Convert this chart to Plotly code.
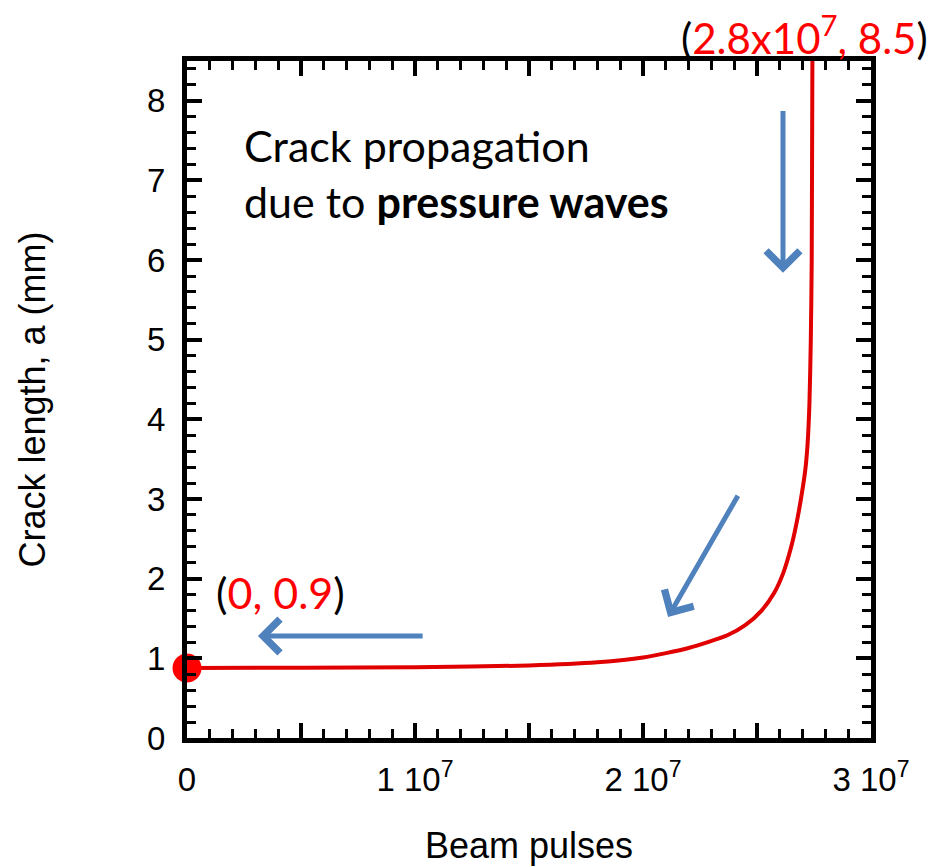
import plotly.graph_objects as go

# Crack growth curve (beam pulses, crack length in mm)
pulses = [0, 0.5e7, 1.0e7, 1.5e7, 1.8e7, 2.0e7, 2.2e7, 2.37e7, 2.45e7, 2.52e7,
          2.575e7, 2.615e7, 2.65e7, 2.675e7, 2.695e7, 2.712e7, 2.722e7, 2.730e7,
          2.736e7, 2.740e7, 2.743e7]
crack_mm = [0.88, 0.882, 0.888, 0.91, 0.95, 1.01, 1.13, 1.29, 1.42, 1.60,
            1.82, 2.07, 2.40, 2.72, 3.04, 3.37, 3.70, 4.20,
            5.0, 6.0, 8.5]

start_point = [0]
start_value = [0.88]

x_tickvals = [0, 0.5e7, 1e7, 1.5e7, 2e7, 2.5e7, 3e7]
x_ticktext = ["0", "", "1 10<sup>7</sup>", "", "2 10<sup>7</sup>", "", "3 10<sup>7</sup>"]
y_tickvals = [0, 1, 2, 3, 4, 5, 6, 7, 8]

RED = "#e00000"
BLUE = "#4f81bd"
AXFONT = "Liberation Sans, Arial, sans-serif"
TXTFONT = "Lato, Open Sans, sans-serif"

fig = go.Figure()
fig.add_trace(go.Scatter(x=pulses, y=crack_mm, mode="lines",
                         line=dict(color=RED, width=4, shape="spline", smoothing=0.6),
                         showlegend=False, hoverinfo="skip"))
fig.add_trace(go.Scatter(x=start_point, y=start_value, mode="markers",
                         marker=dict(color="#ff0000", size=29),
                         cliponaxis=False, showlegend=False))

axis_common = dict(
    showline=True, linecolor="black", linewidth=5, mirror="allticks",
    ticks="inside", ticklen=15, tickwidth=4, tickcolor="black",
    showgrid=False, zeroline=False,
    tickfont=dict(family=AXFONT, size=33, color="black"),
)

fig.update_xaxes(range=[0, 3e7], tickvals=x_tickvals, ticktext=x_ticktext,
                 minor=dict(ticks="inside", dtick=1e6, tick0=0, ticklen=9, tickwidth=3, tickcolor="black"),
                 title=dict(text="Beam pulses", font=dict(family=AXFONT, size=36, color="black"), standoff=38),
                 ticklabelstandoff=8,
                 **axis_common)
fig.update_yaxes(range=[0, 8.5], tickvals=y_tickvals,
                 minor=dict(ticks="inside", dtick=0.2, tick0=0, ticklen=9, tickwidth=3, tickcolor="black"),
                 title=dict(text="Crack length, a (mm)", font=dict(family=AXFONT, size=36, color="black"), standoff=92),
                 ticklabelstandoff=10,
                 **axis_common)

arrows = [
    # (head_x, head_y, tail_x, tail_y)
    (0.311e7, 1.28, 1.04e7, 1.28),
    (2.11e7, 1.52, 2.42e7, 3.06),
    (2.614e7, 5.84, 2.614e7, 7.89),
]
for hx, hy, tx, ty in arrows:
    fig.add_annotation(x=hx, y=hy, ax=tx, ay=ty, xref="x", yref="y", axref="x", ayref="y",
                       text="", showarrow=True, arrowhead=4, arrowsize=1.3, arrowwidth=5,
                       arrowcolor=BLUE, standoff=0)

fig.add_annotation(x=0.24e7, y=7.78, xref="x", yref="y", xanchor="left", yanchor="top",
                   text="Crack propagation<br>due to <b>pressure waves</b>", showarrow=False, align="left",
                   font=dict(family=TXTFONT, size=43, color="black"))
fig.add_annotation(x=0.41e7, y=1.83, xref="x", yref="y", xanchor="center", yanchor="middle",
                   text="(<span style='color:#ff0000'>0, 0.9</span>)", showarrow=False,
                   font=dict(family=TXTFONT, size=43, color="black"))
fig.add_annotation(x=2.708e7, y=1.038, xref="x", yref="paper", xanchor="center", yanchor="middle",
                   text="(<span style='color:#ff0000'>2.8x10<sup>7</sup>, 8.5</span>)", showarrow=False,
                   font=dict(family=TXTFONT, size=42, color="black"))

# page body adds an 8px offset; margins compensate so the frame lands where the reference has it
fig.update_layout(width=941, height=867, paper_bgcolor="white", plot_bgcolor="white",
                  margin=dict(l=179, r=78, t=53, b=137, autoexpand=False))

fig.write_html("out.html")
